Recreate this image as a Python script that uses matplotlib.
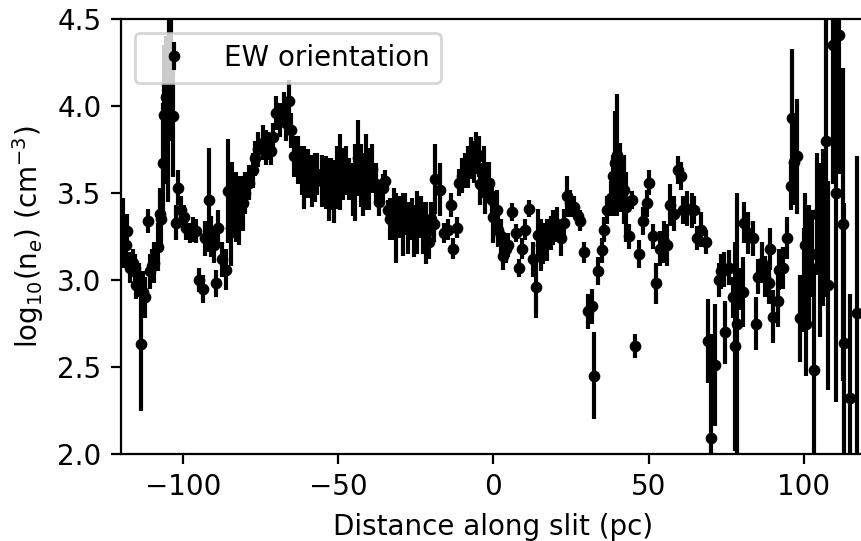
import matplotlib.pyplot as plt
import numpy as np

# positions along the slit (pc)
distance = [
    -119.5, -118.5, -117.9, -117.0, -116.0, -115.6, -115.0, -114.3, -113.7, -113.0,
    -112.4, -111.4, -110.5, -110.0, -109.2, -108.2, -107.5, -107.0, -106.6, -106.0,
    -105.5, -105.0, -104.6, -104.0, -103.4, -102.4, -101.5, -100.8, -99.8, -98.9,
    -97.9, -96.9, -95.7, -95.0, -93.7, -92.8, -91.5, -90.9, -90.0, -89.5,
    -88.6, -87.3, -86.3, -85.5, -84.6, -84.1, -83.1, -82.1, -80.8, -79.9,
    -78.9, -77.6, -76.7, -75.7, -74.4, -73.4, -72.5, -71.6, -70.9, -69.9,
    -68.9, -67.6, -66.8, -66.0, -65.1, -64.1, -63.1, -61.8, -60.9, -59.9,
    -58.6, -57.6, -56.7, -55.4, -54.1, -53.1, -52.2, -51.3, -50.3, -49.4,
    -48.4, -47.4, -46.4, -45.4, -44.5, -43.8, -42.8, -41.9, -41.0, -40.0,
    -39.0, -38.0, -37.0, -35.7, -34.8, -34.1, -33.2, -32.2, -31.3, -30.3,
    -29.3, -28.4, -27.4, -26.4, -25.5, -24.5, -23.5, -22.6, -21.6, -20.9,
    -20.0, -19.3, -19.0, -17.1, -16.1, -14.8, -13.8, -12.9, -11.6, -11.0,
    -10.0, -9.2, -8.1, -7.3, -6.4, -5.5, -4.8, -4.2, -3.2, -2.6,
    -1.6, -0.6, 0.0, 1.0, 1.6, 2.5, 3.2, 4.0, 4.8, 6.1,
    7.1, 8.1, 9.3, 10.3, 11.6, 12.6, 13.8, 14.5, 15.3, 16.1,
    17.4, 18.4, 19.3, 20.6, 21.6, 22.6, 23.8, 24.8, 25.8, 27.1,
    28.0, 29.3, 30.3, 31.6, 32.5, 33.8, 34.8, 35.7, 36.7, 38.0,
    38.6, 39.3, 39.9, 40.9, 41.9, 42.8, 43.5, 44.5, 45.7, 47.0,
    48.3, 49.3, 50.2, 51.5, 52.5, 53.5, 54.8, 56.0, 57.0, 58.0,
    59.3, 60.5, 61.2, 62.5, 63.8, 64.7, 65.7, 67.0, 68.3, 69.2,
    70.2, 71.5, 72.5, 73.4, 74.1, 74.7, 76.0, 77.3, 77.8, 78.5,
    79.0, 80.5, 80.8, 82.1, 83.7, 84.7, 85.3, 86.6, 87.6, 88.6,
    89.2, 90.2, 91.5, 92.1, 93.4, 94.7, 95.7, 96.3, 96.9, 97.9,
    98.6, 100.0, 100.5, 100.8, 101.5, 102.5, 103.4, 104.3, 105.3, 106.2,
    107.2, 107.9, 109.5, 110.2, 111.4, 112.7, 113.0, 115.0, 117.2, 119.8,
]

# log10 electron density
log_ne = [
    3.27, 3.20, 3.28, 3.07, 3.10, 3.07, 2.97, 3.00, 2.63, 2.93,
    2.90, 3.34, 3.05, 3.08, 3.10, 3.19, 3.38, 3.35, 3.67, 3.95,
    4.05, 3.90, 4.20, 4.30, 3.94, 3.33, 3.53, 3.40, 3.36, 3.30,
    3.27, 3.29, 3.28, 3.00, 2.95, 3.24, 3.46, 3.25, 3.20, 2.98,
    3.30, 3.12, 3.06, 3.51, 3.30, 3.46, 3.42, 3.40, 3.44, 3.50,
    3.56, 3.63, 3.70, 3.75, 3.79, 3.76, 3.77, 3.74, 3.82, 3.96,
    3.92, 3.98, 3.90, 4.03, 3.86, 3.71, 3.69, 3.63, 3.59, 3.61,
    3.57, 3.59, 3.61, 3.57, 3.56, 3.52, 3.55, 3.51, 3.59, 3.62,
    3.61, 3.63, 3.58, 3.52, 3.56, 3.70, 3.60, 3.55, 3.62, 3.58,
    3.64, 3.55, 3.45, 3.53, 3.57, 3.40, 3.35, 3.38, 3.30, 3.36,
    3.32, 3.38, 3.30, 3.35, 3.28, 3.33, 3.36, 3.30, 3.27, 3.22,
    3.35, 3.32, 3.58, 3.52, 3.27, 3.29, 3.43, 3.18, 3.30, 3.56,
    3.60, 3.63, 3.65, 3.70, 3.68, 3.73, 3.71, 3.55, 3.62, 3.53,
    3.56, 3.46, 3.36, 3.40, 3.29, 3.25, 3.14, 3.18, 3.20, 3.39,
    3.27, 3.07, 3.18, 3.29, 3.41, 3.12, 2.96, 3.26, 3.20, 3.21,
    3.23, 3.27, 3.30, 3.32, 3.24, 3.33, 3.48, 3.44, 3.42, 3.37,
    3.34, 3.16, 2.82, 2.85, 2.45, 3.05, 3.17, 3.29, 3.40, 3.47,
    3.60, 3.67, 3.72, 3.59, 3.52, 3.42, 3.25, 3.46, 2.62, 3.15,
    3.34, 3.44, 3.56, 3.25, 2.98, 3.18, 3.22, 3.20, 3.43, 3.38,
    3.63, 3.60, 3.40, 3.41, 3.40, 3.40, 3.24, 3.29, 3.22, 2.65,
    2.09, 2.51, 3.00, 3.05, 3.06, 2.70, 3.07, 2.90, 2.62, 2.75,
    2.95, 2.93, 3.33, 3.27, 3.24, 2.75, 3.02, 3.10, 3.02, 2.98,
    3.18, 2.79, 2.88, 3.06, 3.07, 3.24, 3.54, 3.93, 3.68, 3.71,
    2.78, 3.00, 3.20, 2.75, 3.08, 3.15, 2.48, 3.38, 3.17, 3.30,
    3.80, 2.97, 4.35, 3.50, 4.41, 3.32, 2.64, 2.32, 2.81, 2.80,
]

log_ne_err = [
    0.20, 0.12, 0.10, 0.09, 0.08, 0.08, 0.08, 0.10, 0.38, 0.12,
    0.12, 0.07, 0.10, 0.10, 0.12, 0.14, 0.15, 0.15, 0.35, 0.40,
    0.35, 0.45, 0.40, 0.30, 0.35, 0.10, 0.10, 0.08, 0.07, 0.07,
    0.06, 0.07, 0.07, 0.07, 0.08, 0.10, 0.30, 0.12, 0.10, 0.08,
    0.10, 0.10, 0.12, 0.30, 0.22, 0.22, 0.20, 0.20, 0.16, 0.12,
    0.10, 0.10, 0.10, 0.10, 0.10, 0.10, 0.08, 0.08, 0.08, 0.10,
    0.10, 0.10, 0.10, 0.12, 0.10, 0.12, 0.14, 0.14, 0.18, 0.14,
    0.15, 0.14, 0.12, 0.15, 0.15, 0.18, 0.15, 0.18, 0.18, 0.22,
    0.15, 0.14, 0.12, 0.15, 0.22, 0.22, 0.18, 0.18, 0.22, 0.18,
    0.14, 0.12, 0.08, 0.08, 0.06, 0.06, 0.12, 0.15, 0.20, 0.12,
    0.18, 0.12, 0.15, 0.12, 0.15, 0.18, 0.12, 0.15, 0.18, 0.10,
    0.10, 0.10, 0.20, 0.15, 0.06, 0.06, 0.07, 0.06, 0.06, 0.08,
    0.10, 0.10, 0.12, 0.12, 0.12, 0.12, 0.12, 0.12, 0.15, 0.15,
    0.12, 0.12, 0.15, 0.12, 0.10, 0.10, 0.08, 0.08, 0.07, 0.05,
    0.05, 0.05, 0.06, 0.06, 0.05, 0.10, 0.18, 0.15, 0.15, 0.12,
    0.12, 0.10, 0.10, 0.10, 0.10, 0.08, 0.12, 0.08, 0.06, 0.05,
    0.06, 0.06, 0.10, 0.10, 0.25, 0.08, 0.07, 0.07, 0.08, 0.10,
    0.12, 0.30, 0.35, 0.20, 0.20, 0.20, 0.07, 0.05, 0.07, 0.08,
    0.08, 0.08, 0.07, 0.07, 0.12, 0.10, 0.12, 0.12, 0.12, 0.10,
    0.08, 0.08, 0.08, 0.10, 0.10, 0.08, 0.07, 0.10, 0.07, 0.24,
    0.60, 0.35, 0.10, 0.10, 0.10, 0.18, 0.10, 0.12, 0.60, 0.75,
    0.12, 0.20, 0.12, 0.12, 0.10, 0.15, 0.10, 0.12, 0.12, 0.12,
    0.12, 0.15, 0.15, 0.12, 0.12, 0.12, 0.14, 0.40, 0.25, 0.33,
    0.25, 0.30, 0.30, 0.30, 0.35, 0.25, 0.60, 0.35, 0.50, 0.45,
    0.90, 0.60, 0.80, 1.20, 0.80, 0.90, 0.80, 0.60, 0.90, 0.40,
]

fig = plt.figure(figsize=(861 / 200, 541 / 200), dpi=200)
ax = fig.add_axes([0.1405, 0.1608, 0.8653, 0.8041])

ax.errorbar(distance, log_ne, yerr=log_ne_err, fmt='o', color='k',
            markersize=3.2, label='EW orientation')

ax.set_xlim(-120, 120)
ax.set_ylim(2.0, 4.5)
ax.set_xlabel('Distance along slit (pc)')
ax.set_ylabel(r'log$_{10}$(n$_e$) (cm$^{-3}$)')
ax.legend(loc='upper left')

fig.savefig('out.png', dpi=200)
